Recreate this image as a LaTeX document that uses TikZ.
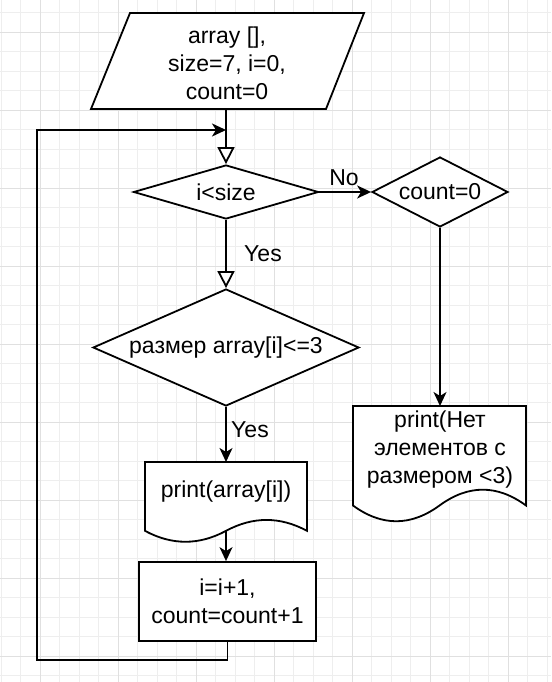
\documentclass[tikz,border=0pt]{standalone}
\usepackage{fontspec}
\setmainfont{Liberation Sans}
\usetikzlibrary{shapes.geometric,arrows.meta}
\definecolor{gmin}{HTML}{EEEEEE}
\definecolor{gmaj}{HTML}{E0E0E0}
\begin{document}
\begin{tikzpicture}[x=1pt,y=-1pt,
  every node/.style={font=\fontsize{23}{28}\selectfont, text=black, inner sep=0pt},
  shp/.style={draw=black, line width=1.8pt, fill=white, line join=miter},
  flow/.style={draw=black, line width=1.8pt, -{Stealth[length=14pt,width=13pt,inset=4pt]}},
  hollow/.style={draw=black, line width=1.8pt, -{Triangle[length=17pt,width=17pt,fill=white]}},
  dia/.style={shp, diamond, inner sep=0pt},
  gridminor/.style={draw=gmin, line width=0.8pt},
  gridmajor/.style={draw=gmaj, line width=0.8pt}
]
\useasboundingbox (0,0) rectangle (551,682);
\fill[white] (0,0) rectangle (551,682);
% grid
\foreach \k in {-1,...,27} \draw[gridminor] ({20.8+19.5*\k},0) -- ++(0,682);
\foreach \k in {-1,...,33} \draw[gridminor] (0,{32.3+19.5*\k}) -- ++(551,0);
\foreach \k in {1,5,...,25} \draw[gridmajor] ({20.8+19.5*\k},0) -- ++(0,682);
\foreach \k in {0,4,...,32} \draw[gridmajor] (0,{32.3+19.5*\k}) -- ++(551,0);

% input parallelogram
\draw[shp] (130,13) -- (364,13) -- (326,109) -- (91,109) -- cycle;
\node[align=center] (tin) at (227,63) {array [],\\size=7, i=0,\\count=0};
\coordinate (pbot) at (226,109);
\coordinate (join) at (226,130);

% decisions
\node[dia, minimum width=185pt, minimum height=54pt, aspect=3.4] (d1) at (226,192) {i<size};
\node[dia, minimum width=136pt, minimum height=70pt, aspect=1.94] (d3) at (440,192) {count=0};
\node[dia, minimum width=266pt, minimum height=117pt, aspect=2.27] (d2) at (226,347.5) {размер array[i]<=3};

% document 1
\draw[shp] (145,462) -- (307,462) -- (307,530.85) .. controls (280,516.3) and (253,516.3) .. (226,530.85) .. controls (199,545.4) and (172,545.4) .. (145,530.85) -- cycle;
\coordinate (doc1top) at (226,462);
\coordinate (doc1bot) at (226,530.85);
\node (t1) at (226,492) {print(array[i])};

% document 2
\draw[shp] (353,406) -- (526,406) -- (526,505.5) .. controls (497.2,484.4) and (468.3,484.4) .. (439.5,505.5) .. controls (410.7,526.5) and (381.8,526.5) .. (353,505.5) -- cycle;
\coordinate (doc2top) at (440,406);
\node[align=center] (t2) at (440,450) {print(Нет\\элементов с\\размером <3)};

% process
\node[shp, minimum width=177pt, minimum height=79pt, align=center] (inc) at (227.5,601.5) {i=i+1,\\count=count+1};

% loop corners
\coordinate (lb) at (37,660);
\coordinate (lt) at (37,130);

% connectors
\draw[hollow] (pbot) -- (d1.north);
\draw[hollow] (d1.south) -- (d2.north);
\draw[flow] (d1.east) -- (d3.west);
\draw[flow] (d3.south) -- (doc2top);
\draw[flow] (d2.south) -- (doc1top);
\draw[flow] (doc1bot) -- (doc1bot |- inc.north);
\draw[flow] (inc.south) -- (inc.south |- lb) -- (lb) -- (lt) -- (join);

% labels
\node (no) at (344,178) {No};
\node (yes1) at (263,254) {Yes};
\node (yes2) at (250,430) {Yes};
\end{tikzpicture}
\end{document}
